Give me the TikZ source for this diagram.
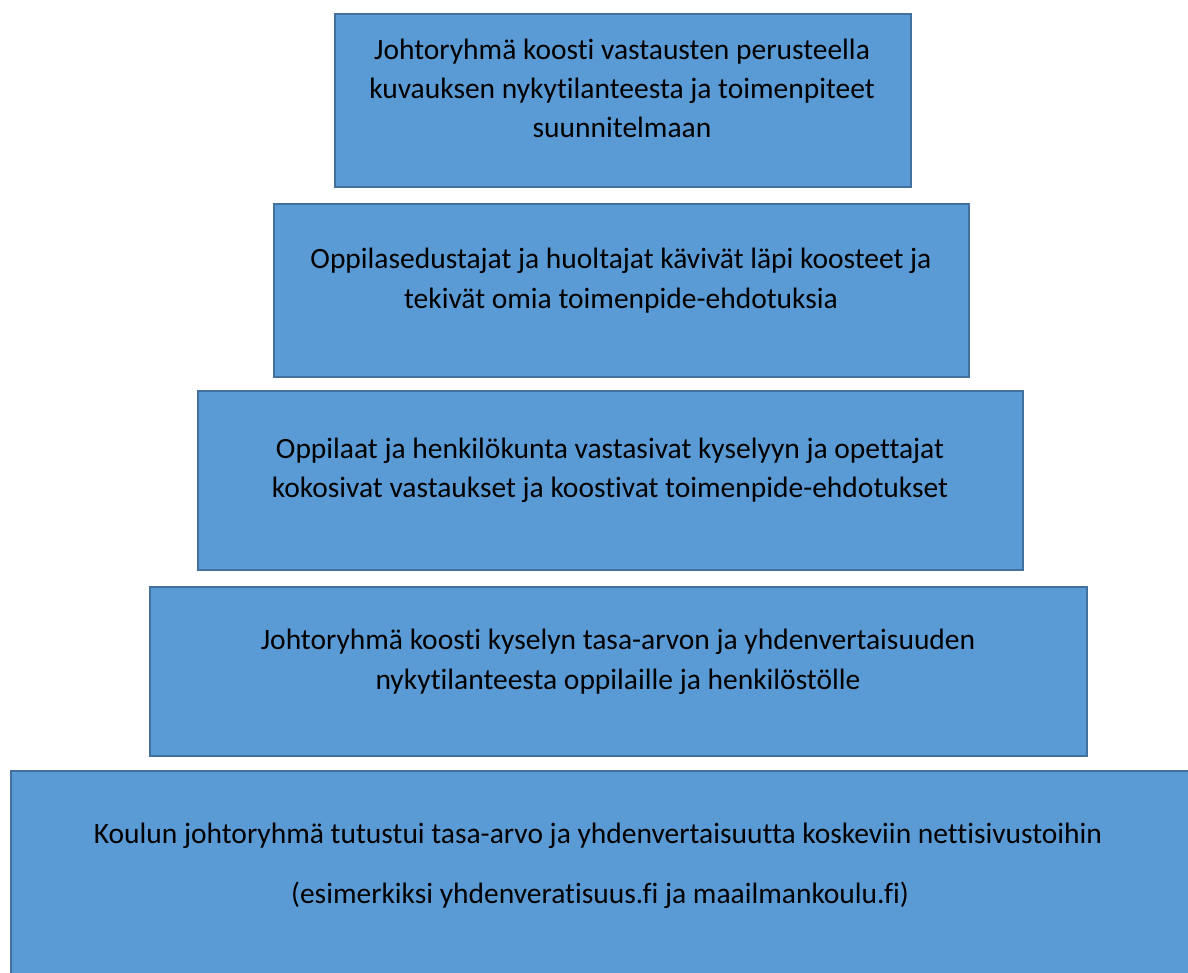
\documentclass[tikz,border=0pt]{standalone}
\usepackage{fontspec}
\setmainfont{Carlito}[Ligatures=NoCommon]
\definecolor{boxfill}{HTML}{5B9BD5}
\definecolor{boxline}{HTML}{41719C}
\tikzset{
  stepbox/.style={draw=boxline, fill=boxfill, line width=2pt},
  txt/.style={anchor=base, inner sep=0pt, font=\fontsize{29.5}{35}\selectfont, text=black}
}
\begin{document}
\begin{tikzpicture}[x=1pt,y=-1pt]
\clip (0,0) rectangle (1188,972);
\fill[white] (0,0) rectangle (1188,972);
% boxes
\draw[stepbox] (335,14) rectangle (911,187) node[pos=0.5,inner sep=0] (b1) {};
\draw[stepbox] (274,204) rectangle (969,377) node[pos=0.5,inner sep=0] (b2) {};
\draw[stepbox] (198,391) rectangle (1023,570) node[pos=0.5,inner sep=0] (b3) {};
\draw[stepbox] (150,587) rectangle (1087,756) node[pos=0.5,inner sep=0] (b4) {};
\draw[stepbox] (11,771) rectangle (1200,990) node[pos=0.5,inner sep=0] (b5) {};
% texts
\node[txt] (t1a) at (622,59) {Johtoryhmä koosti vastausten perusteella};
\node[txt] (t1b) at (622,98) {kuvauksen nykytilanteesta ja toimenpiteet};
\node[txt] (t1c) at (622,137) {suunnitelmaan};
\node[txt] (t2a) at (621,268) {Oppilasedustajat ja huoltajat kävivät läpi koosteet ja};
\node[txt] (t2b) at (621,308) {tekivät omia toimenpide-ehdotuksia};
\node[txt] (t3a) at (610,458) {Oppilaat ja henkilökunta vastasivat kyselyyn ja opettajat};
\node[txt] (t3b) at (610,497) {kokosivat vastaukset ja koostivat toimenpide-ehdotukset};
\node[txt] (t4a) at (618,649) {Johtoryhmä koosti kyselyn tasa-arvon ja yhdenvertaisuuden};
\node[txt] (t4b) at (618,689) {nykytilanteesta oppilaille ja henkilöstölle};
\node[txt] (t5a) at (598,843) {Koulun johtoryhmä tutustui tasa-arvo ja yhdenvertaisuutta koskeviin nettisivustoihin};
\node[txt] (t5b) at (600,903) {(esimerkiksi yhdenveratisuus.fi ja maailmankoulu.fi)};
\end{tikzpicture}
\end{document}
